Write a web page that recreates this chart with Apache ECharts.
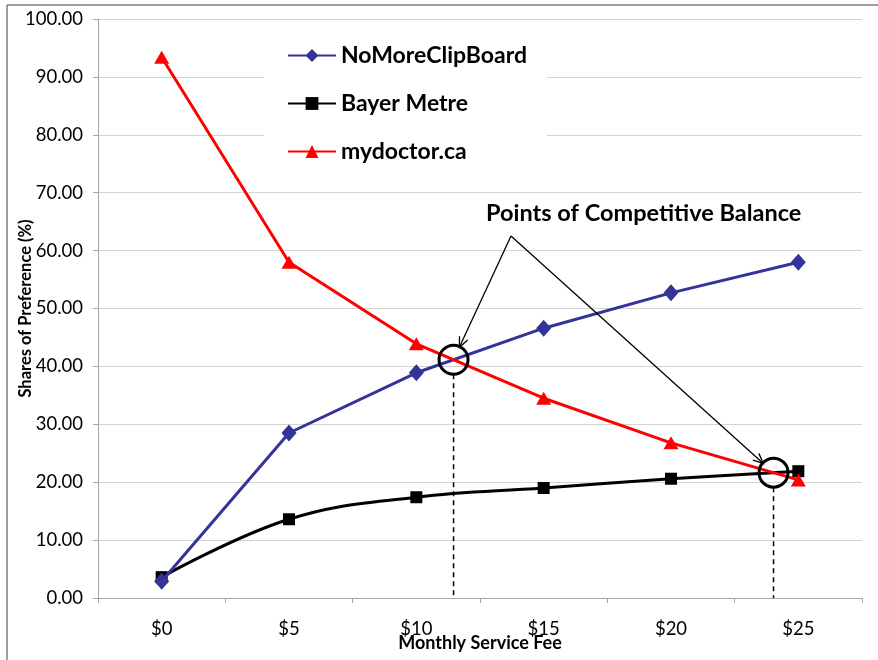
<!DOCTYPE html>
<html>
<head>
<meta charset="utf-8">
<script src="https://cdn.jsdelivr.net/npm/echarts@6/dist/echarts.min.js"></script>
<style>
  html, body { margin: 0; padding: 0; background: #fff; }
  #chartLine { width: 878px; height: 660px; }
</style>
</head>
<body>
<div id="chartLine"></div>
<script>
  // values
  const fees = ['$0', '$5', '$10', '$15', '$20', '$25']
  const noMoreClipBoard = [2.9, 28.5, 38.9, 46.6, 52.7, 58.0]
  const bayerMetre = [3.6, 13.6, 17.4, 19.0, 20.6, 21.9]
  const mydoctor = [93.4, 58.0, 43.9, 34.5, 26.8, 20.4]
  const yTicks = [0, 10, 20, 30, 40, 50, 60, 70, 80, 90, 100]

  const font = 'Lato, "Open Sans", sans-serif'
  const myChart = echarts.init(document.getElementById('chartLine'))

  const option = {
    backgroundColor: '#fff',
    animation: false,
    grid: {
      left: 98,
      right: 16,
      top: 19,
      bottom: 62,
      containLabel: false,
      outerBoundsMode: 'none'
    },
    legend: {
      orient: 'vertical',
      left: 264,
      top: 28,
      padding: [16, 20, 16, 23],
      backgroundColor: '#fff',
      itemWidth: 48,
      itemHeight: 16,
      itemGap: 25,
      textStyle: {
        fontFamily: font,
        fontWeight: 'bold',
        fontSize: 23,
        color: '#000'
      },
      data: ['NoMoreClipBoard', 'Bayer Metre', 'mydoctor.ca']
    },
    xAxis: {
      type: 'category',
      data: fees,
      boundaryGap: true,
      name: 'Monthly Service Fee',
      nameLocation: 'middle',
      nameGap: 36,
      nameMoveOverlap: false,
      nameTextStyle: {
        fontFamily: font,
        fontWeight: 'bold',
        fontSize: 18,
        color: '#000'
      },
      axisLine: { lineStyle: { color: '#a6a6a6', width: 1 } },
      axisTick: { show: true, length: 5, lineStyle: { color: '#a6a6a6' } },
      axisLabel: {
        margin: 22,
        fontFamily: font,
        fontSize: 18.5,
        color: '#000'
      },
      splitLine: { show: false }
    },
    yAxis: {
      type: 'value',
      min: yTicks[0],
      max: yTicks[yTicks.length - 1],
      interval: 10,
      name: 'Shares of Preference (%)',
      nameLocation: 'middle',
      nameGap: 64,
      nameRotate: 90,
      nameMoveOverlap: false,
      nameTextStyle: {
        fontFamily: font,
        fontWeight: 'bold',
        fontSize: 16.5,
        color: '#000'
      },
      axisLine: { show: true, lineStyle: { color: '#a6a6a6', width: 1 } },
      axisTick: { show: true, length: 5, lineStyle: { color: '#a6a6a6' } },
      axisLabel: {
        margin: 15,
        fontFamily: font,
        fontSize: 18.5,
        color: '#000',
        formatter: v => v.toFixed(2)
      },
      splitLine: { lineStyle: { color: '#d4d4d4', width: 1 } }
    },
    series: [{
      name: 'NoMoreClipBoard',
      type: 'line',
      data: noMoreClipBoard,
      symbol: 'diamond',
      symbolSize: [15, 17],
      lineStyle: { color: '#333399', width: 3 },
      itemStyle: { color: '#333399' },
      z: 3
    }, {
      name: 'Bayer Metre',
      type: 'line',
      data: bayerMetre,
      smooth: 0.4,
      symbol: 'rect',
      symbolSize: 12,
      lineStyle: { color: '#000', width: 3 },
      itemStyle: { color: '#000' },
      z: 2
    }, {
      name: 'mydoctor.ca',
      type: 'line',
      data: mydoctor,
      symbol: 'triangle',
      symbolSize: [15, 13],
      lineStyle: { color: '#ff0000', width: 3 },
      itemStyle: { color: '#ff0000' },
      z: 4
    }]
  }

  myChart.setOption(option)

  // crossing of two series between category i and i+1, in pixels
  function crossing(a, b, i) {
    const t = (b[i] - a[i]) / ((a[i + 1] - a[i]) - (b[i + 1] - b[i]))
    const v = a[i] + t * (a[i + 1] - a[i])
    const p0 = myChart.convertToPixel({ gridIndex: 0 }, [i, v])
    const p1 = myChart.convertToPixel({ gridIndex: 0 }, [i + 1, v])
    return [p0[0] + t * (p1[0] - p0[0]), p0[1]]
  }

  const c1 = crossing(noMoreClipBoard, mydoctor, 2)
  const c2 = crossing(bayerMetre, mydoctor, 4)
  const axisY = myChart.convertToPixel({ yAxisIndex: 0 }, 0)
  const apex = [511, 236]
  const r = 14.5

  function arrow(center) {
    const dx = apex[0] - center[0]
    const dy = apex[1] - center[1]
    const len = Math.sqrt(dx * dx + dy * dy)
    const ux = dx / len, uy = dy / len
    const tip = [center[0] + ux * r * 0.95, center[1] + uy * r * 0.95]
    const head = 11, ang = 0.42
    const h1 = [tip[0] + head * (ux * Math.cos(ang) - uy * Math.sin(ang)),
                tip[1] + head * (uy * Math.cos(ang) + ux * Math.sin(ang))]
    const h2 = [tip[0] + head * (ux * Math.cos(-ang) - uy * Math.sin(-ang)),
                tip[1] + head * (uy * Math.cos(-ang) + ux * Math.sin(-ang))]
    return [{
      type: 'line',
      shape: { x1: apex[0], y1: apex[1], x2: tip[0], y2: tip[1] },
      style: { stroke: '#000', lineWidth: 1.3 },
      z: 20
    }, {
      type: 'polyline',
      shape: { points: [h1, tip, h2] },
      style: { stroke: '#000', lineWidth: 1.3, fill: null },
      z: 20
    }]
  }

  function balance(center) {
    return [{
      type: 'line',
      shape: { x1: center[0], y1: center[1] + r, x2: center[0], y2: axisY },
      style: { stroke: '#000', lineWidth: 1.5, lineDash: [5, 4] },
      z: 20
    }, {
      type: 'circle',
      shape: { cx: center[0], cy: center[1], r: r },
      style: { stroke: '#000', lineWidth: 3, fill: null },
      z: 21
    }]
  }

  myChart.setOption({
    graphic: [
      // outer frame (left and top edges)
      { type: 'line', shape: { x1: 7, y1: 5, x2: 7, y2: 660 }, style: { stroke: '#7f7f7f', lineWidth: 1.5 } },
      { type: 'line', shape: { x1: 7, y1: 5, x2: 878, y2: 5 }, style: { stroke: '#7f7f7f', lineWidth: 1.5 } },
      {
        type: 'text',
        left: 486,
        top: 201,
        style: {
          text: 'Points of Competitive Balance',
          font: 'bold 23.5px ' + font,
          fill: '#000'
        },
        z: 20
      },
      ...balance(c1),
      ...balance(c2),
      ...arrow(c1),
      ...arrow(c2)
    ]
  })
</script>
</body>
</html>
